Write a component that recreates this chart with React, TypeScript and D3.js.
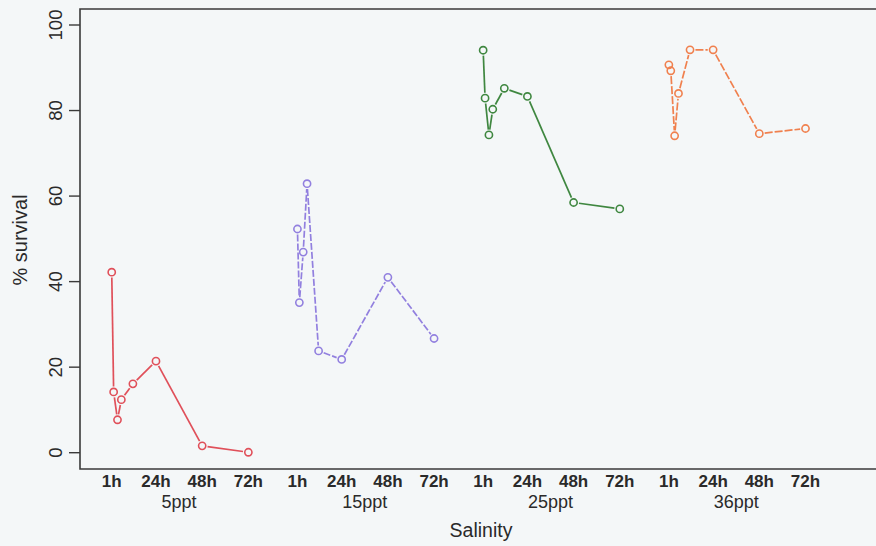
import { scaleLinear } from "d3"

const groups = ["5ppt", "15ppt", "25ppt", "36ppt"]
const hours = [1, 2, 4, 6, 12, 24, 48, 72]
const survival5 = [42.2, 14.2, 7.7, 12.4, 16.1, 21.4, 1.6, 0.1]
const survival15 = [52.3, 35.1, 46.9, 62.9, 23.8, 21.8, 41.0, 26.7]
const survival25 = [94.1, 82.9, 74.3, 80.3, 85.2, 83.3, 58.5, 57.0]
const survival36 = [90.7, 89.3, 74.1, 84.0, 94.2, 94.2, 74.6, 75.8]
const timeTicks = [1, 24, 48, 72]
const timeLabels = ["1h", "24h", "48h", "72h"]
const yTicks = [0, 20, 40, 60, 80, 100]

// hours between the start of one salinity block and the next
const groupGap = 96.5

const series = [
  { values: survival5, color: "#e0505a", dash: "none" },
  { values: survival15, color: "#9280df", dash: "7,2" },
  { values: survival25, color: "#3f8740", dash: "none" },
  { values: survival36, color: "#f0804e", dash: "8,2" },
]

const font = "'Liberation Sans', Arial, sans-serif"

export default function App() {
  const width = 876
  const height = 546
  const left = 80
  const top = 9
  const bottom = 469

  const xScale = scaleLinear()
    .domain([0, 3 * groupGap + 72])
    .range([109.8, 805.5])
  const yScale = scaleLinear().domain([0, 100]).range([452.7, 25])

  const r = 3.6
  const gap = r + 1.8

  return (
    <svg
      width={width}
      height={height}
      style={{ position: "absolute", left: 0, top: 0, fontFamily: font }}
    >
      <rect width={width} height={height} fill="#f4f7f8" />

      {/* Box (right side runs off the page) */}
      <path
        d={`M${width + 4},${top} H${left} V${bottom} H${width + 4}`}
        fill="none"
        stroke="#3a3a3a"
        strokeWidth={1.6}
      />

      {/* Y axis */}
      {yTicks.map((v) => (
        <g key={v}>
          <line
            x1={left - 11}
            x2={left}
            y1={yScale(v)}
            y2={yScale(v)}
            stroke="#3a3a3a"
            strokeWidth={1.4}
          />
          <text
            transform={`translate(62,${yScale(v)}) rotate(-90)`}
            textAnchor="middle"
            fontSize={18.5}
            fill="#2a2a2a"
          >
            {v}
          </text>
        </g>
      ))}
      <text
        transform={`translate(27,240) rotate(-90)`}
        textAnchor="middle"
        fontSize={20}
        fill="#2a2a2a"
      >
        % survival
      </text>

      {/* X axis labels */}
      {groups.map((g, gi) => (
        <g key={g}>
          {timeTicks.map((t, ti) => (
            <text
              key={t}
              x={xScale(gi * groupGap + t)}
              y={487}
              textAnchor="middle"
              fontSize={17}
              fontWeight="bold"
              fill="#2a2a2a"
            >
              {timeLabels[ti]}
            </text>
          ))}
          <text
            x={xScale(gi * groupGap + 36)}
            y={508}
            textAnchor="middle"
            fontSize={18}
            fill="#2a2a2a"
          >
            {g}
          </text>
        </g>
      ))}
      <text x={481} y={537} textAnchor="middle" fontSize={19.5} fill="#2a2a2a">
        Salinity
      </text>

      {/* Series: lines with gaps around the points */}
      {series.map((s, si) => {
        const pts = s.values.map((v, i) => [
          xScale(si * groupGap + hours[i]),
          yScale(v),
        ])
        return (
          <g key={si}>
            {pts.slice(1).map((p, i) => {
              const a = pts[i]
              const dx = p[0] - a[0]
              const dy = p[1] - a[1]
              const len = Math.hypot(dx, dy)
              if (len <= 2 * gap + 0.5) return null
              const ux = dx / len
              const uy = dy / len
              return (
                <line
                  key={i}
                  x1={a[0] + ux * gap}
                  y1={a[1] + uy * gap}
                  x2={p[0] - ux * gap}
                  y2={p[1] - uy * gap}
                  stroke={s.color}
                  strokeWidth={1.7}
                  strokeDasharray={s.dash}
                />
              )
            })}
            {pts.map((p, i) => (
              <circle
                key={i}
                cx={p[0]}
                cy={p[1]}
                r={r}
                fill="none"
                stroke={s.color}
                strokeWidth={1.6}
              />
            ))}
          </g>
        )
      })}
    </svg>
  )
}
